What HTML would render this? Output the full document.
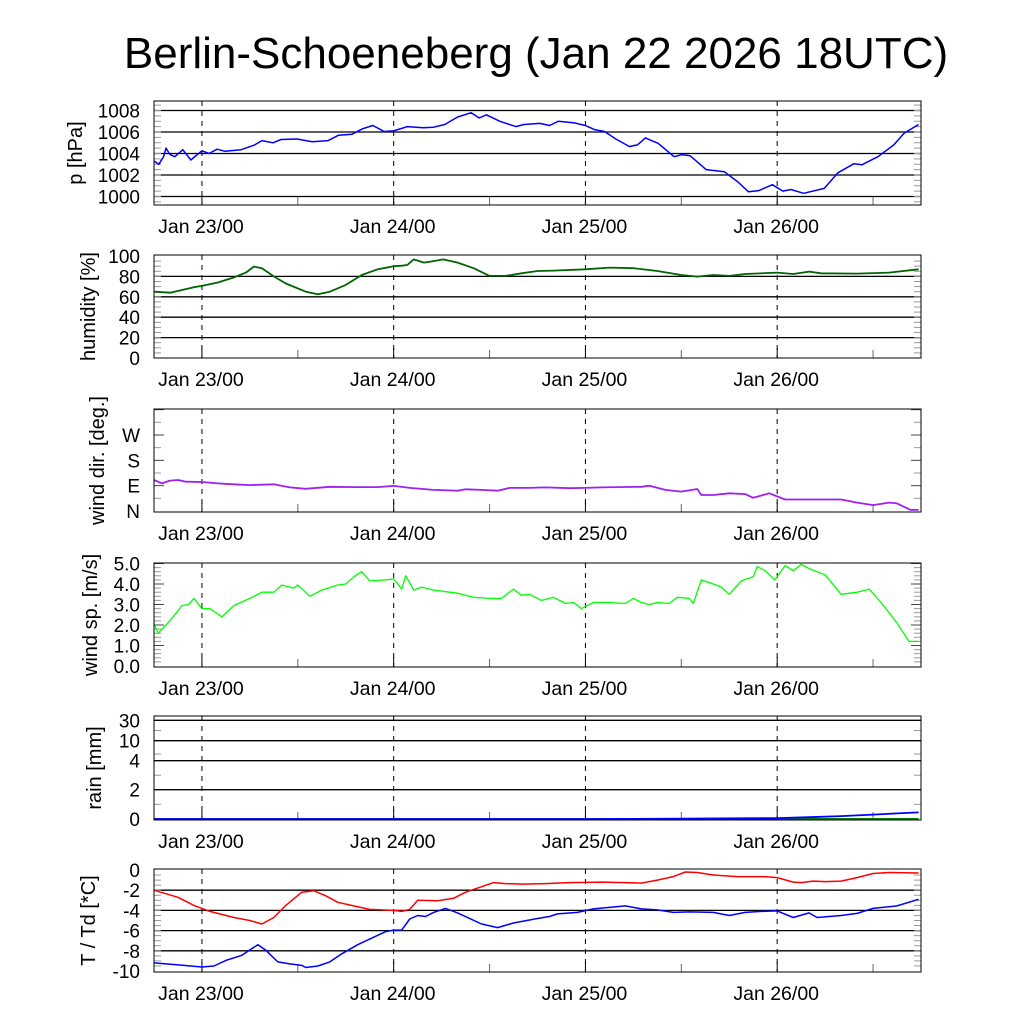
<!DOCTYPE html>
<html><head><meta charset="utf-8"><style>
body{margin:0;background:#fff}
svg{display:block;font-family:"Liberation Sans",sans-serif}
</style></head><body>
<svg id="chart" width="1024" height="1024" viewBox="0 0 1024 1024">
<text x="536" y="68" font-size="44" text-anchor="middle">Berlin-Schoeneberg (Jan 22 2026 18UTC)</text>
</svg>
<script>
// ---- data (hours since Jan 22 18UTC) ----
const dayLabels = ["Jan 23/00","Jan 24/00","Jan 25/00","Jan 26/00"];
const dayHours = [6,30,54,78];
const minorHours = [18,42,66,90];
const pH = [0,0.6,1.2,1.5,2,2.6,3.6,4.6,6,6.9,7.9,8.9,10.9,12.6,13.5,14.9,15.9,17.9,19.8,21.8,23.1,24.8,26.1,27.4,28.8,30,31.7,33.7,35,36.4,38,39.7,40.7,41.6,43.3,45.3,46.3,48.3,49.5,50.6,52.6,54,55.2,56.4,57.8,59.5,60.5,61.5,63.1,65.1,66.1,67.1,69.1,71.4,73.1,74.4,75.7,77.4,78.7,79.7,81.3,83.9,85.6,87.6,88.6,90.6,92.6,93.9,95.7];
const pV = [1003.3,1003.0,1003.7,1004.5,1003.9,1003.7,1004.35,1003.4,1004.25,1004.0,1004.4,1004.2,1004.35,1004.8,1005.2,1005.0,1005.3,1005.35,1005.1,1005.2,1005.7,1005.8,1006.3,1006.6,1006.05,1006.1,1006.5,1006.4,1006.45,1006.7,1007.4,1007.8,1007.3,1007.6,1007.0,1006.5,1006.7,1006.8,1006.6,1007.0,1006.85,1006.6,1006.2,1006.05,1005.35,1004.65,1004.8,1005.45,1004.95,1003.7,1003.9,1003.8,1002.5,1002.3,1001.35,1000.45,1000.55,1001.1,1000.5,1000.65,1000.3,1000.75,1002.2,1003.05,1002.95,1003.7,1004.8,1005.9,1006.7];
const hH = [0,2,5,6,8,10,11.5,12.5,13.5,15,16.5,19,20.5,22,24,26,28,30,31,31.7,32.5,33.8,35,36.2,38,40,42,44,46,48,50,54,57,60,63,66,68,70,72,74,78,80,82,83.5,88,92,95.7];
const hV = [65,64,69.4,70.7,74,79,83.7,89.6,88,80,73,65,62.5,65,71.7,81.4,87,90,90.5,91.2,96.7,93.5,95,96.7,93.5,88,80.5,80.5,83,85.3,85.7,87,88.6,88,85.3,81.4,79.8,81.4,80.5,82.4,83.7,82.4,84.7,83,82.7,83.7,87];
const dH = [0,1,2,3,4,6,8,10,12,15,17,19,22,25,28,30,32,35,38,39,41,43,44.5,47,49,52,54,56,58,61,62,64,66,68,68.5,70,72,74,75,77,79,80,83,86,88,90,92,93,94.7,95.7];
const dV = [110,98,108,110,104,103,98,95,92,95,84,79,86,85,85,89,82,75,72,77,75,72,82,82,84,81,82,84,85,86,90,75,69,78,57,57,63,60,47,63,41,41,41,41,30,21,30,27,4,4];
const sH = [0,0.5,1.5,2.5,3.5,4.3,5,6,7,8.5,10,12,13.5,15,16,17.5,18,19.5,21,23,24,25,26,27,29,30,31,31.5,32.5,33.5,35,37,38,40,42,43.5,45,46,47,48.5,50,51.5,52.5,53.5,55,57,59,60,61,62,63,64.5,65.5,67,67.5,68.5,70,71,72,73.5,75,75.5,76.5,77.7,79,80,81,82,84,86,88,89.5,91,93,94.5,95.7];
const sV = [2.1,1.6,2.0,2.45,2.95,3.0,3.3,2.8,2.8,2.4,2.95,3.3,3.6,3.6,3.95,3.8,3.95,3.4,3.7,3.95,4.0,4.35,4.6,4.15,4.2,4.25,3.75,4.4,3.7,3.85,3.7,3.6,3.55,3.35,3.3,3.3,3.75,3.45,3.5,3.2,3.35,3.05,3.1,2.8,3.1,3.1,3.05,3.3,3.1,3.0,3.1,3.05,3.35,3.3,3.05,4.2,4.0,3.85,3.5,4.15,4.35,4.85,4.65,4.2,4.9,4.65,4.95,4.75,4.45,3.5,3.6,3.75,3.1,2.1,1.2,1.2];
const rH = [0,54,66,78,82,86,90,93,95.7];
const rV = [0,0,0.02,0.06,0.12,0.2,0.3,0.38,0.45];
const rateH = [78,95.7];
const rateV = [0,0];
const tH = [0,3,5,7,10,12,13.5,15,16.5,18.5,20,21.5,23,25,27,30,31,32,33,35.5,37.5,39,41,42.5,44,46,49,52,56,59,61,63,65,66.5,68,70,73,76.5,78,80,81,82.5,84,86,88,90,92,95.7];
const tV = [-2.0,-2.7,-3.5,-4.1,-4.7,-5.0,-5.35,-4.7,-3.5,-2.2,-2.05,-2.55,-3.2,-3.55,-3.9,-4.0,-4.1,-3.9,-3.0,-3.05,-2.8,-2.2,-1.65,-1.25,-1.35,-1.4,-1.35,-1.25,-1.2,-1.25,-1.3,-1.0,-0.65,-0.2,-0.25,-0.5,-0.65,-0.65,-0.75,-1.2,-1.25,-1.1,-1.15,-1.1,-0.75,-0.35,-0.25,-0.3];
const tdH = [0,3,6,7.5,9,11,12.5,13,14,15.5,17,18.5,19,20.5,22,23.5,25.5,27.5,29,30,31,32,33,34,35,36.5,38,41,43,45,48,49.5,50.5,53,55,57,59,61,63,65,67,70,72,74,76,78,80,82,83,86,88,90,93,95.7];
const tdV = [-9.2,-9.4,-9.6,-9.5,-8.95,-8.45,-7.65,-7.4,-7.95,-9.1,-9.3,-9.45,-9.65,-9.5,-9.1,-8.3,-7.4,-6.65,-6.1,-5.95,-5.95,-4.85,-4.5,-4.6,-4.2,-3.8,-4.25,-5.35,-5.7,-5.25,-4.8,-4.6,-4.35,-4.2,-3.85,-3.7,-3.55,-3.85,-3.95,-4.2,-4.15,-4.2,-4.5,-4.2,-4.1,-4.05,-4.7,-4.25,-4.7,-4.5,-4.3,-3.8,-3.55,-2.9];

const NS="http://www.w3.org/2000/svg";
const svg=document.getElementById('chart');
const X0=154,X1=921,HOURS=96;
const xs=h=>X0+(X1-X0)*h/HOURS;
function el(tag,attrs,parent){const e=document.createElementNS(NS,tag);for(const k in attrs)e.setAttribute(k,attrs[k]);(parent||svg).appendChild(e);return e;}
function lin(v0,y0,v1,y1){return v=>y0+(v-v0)*(y1-y0)/(v1-v0);}
function pw(vals,ys){return v=>{for(let i=0;i<vals.length-1;i++){if(v<=vals[i+1]){return ys[i]+(v-vals[i])*(ys[i+1]-ys[i])/(vals[i+1]-vals[i]);}}return ys[ys.length-1];};}

function panel(o){
  const g=el('g',{});
  
  
  (o.grid||[]).forEach(v=>{const l=el('line',{x1:X0,x2:X1,y1:o.ys(v),y2:o.ys(v),stroke:'#000','stroke-width':1.3},g);
    });
  (o.minor||[]).forEach(v=>{const y=o.ys(v);
    el('line',{x1:X0,x2:X0+7,y1:y,y2:y,stroke:'#999','stroke-width':1},g);
    el('line',{x1:X1-7,x2:X1,y1:y,y2:y,stroke:'#999','stroke-width':1},g);});
  (o.major||[]).forEach(v=>{const y=o.ys(v);
    el('line',{x1:X0,x2:X0+10,y1:y,y2:y,stroke:'#444','stroke-width':1},g);
    el('line',{x1:X1-10,x2:X1,y1:y,y2:y,stroke:'#444','stroke-width':1},g);});
  dayHours.forEach(h=>{const l=el('line',{x1:xs(h),x2:xs(h),y1:o.top,y2:o.bot,stroke:'#000','stroke-width':1,'stroke-dasharray':'5,5'},g);
    
    el('line',{x1:xs(h),x2:xs(h),y1:o.bot-10,y2:o.bot,stroke:'#000','stroke-width':1},g);});
  minorHours.forEach(h=>{el('line',{x1:xs(h),x2:xs(h),y1:o.bot-8,y2:o.bot,stroke:'#666','stroke-width':1},g);});
  o.series.forEach(s=>{
    let d='';for(let i=0;i<s.h.length;i++){d+=(i?'L':'M')+xs(s.h[i]).toFixed(1)+','+o.ys(s.v[i]).toFixed(1);}
    const p=el('path',{d:d,fill:'none',stroke:s.c,'stroke-width':s.w||1.5,'stroke-linejoin':'round'},g);
    
  });
  const f=el('rect',{x:X0,y:o.top,width:X1-X0,height:o.bot-o.top,fill:'none',stroke:'#000','stroke-width':1},g);
  
  o.labels.forEach((t,i)=>{const tx=el('text',{x:140,y:o.ys(o.labelVals[i])+7,'font-size':19,'text-anchor':'end'},g);tx.textContent=t;
    });
  dayLabels.forEach((t,i)=>{const tx=el('text',{x:xs(dayHours[i])-1,y:o.bot+28,'font-size':19.5,'text-anchor':'middle'},g);tx.textContent=t;
    });
  const cy=(o.top+o.bot)/2;
  const at=el('text',{x:0,y:0,'font-size':20,'text-anchor':'middle',transform:`translate(${o.tx},${cy}) rotate(-90)`},g);
  at.textContent=o.title;
}
function rng(a,b,s){const r=[];for(let v=a;v<=b+1e-9;v+=s)r.push(+v.toFixed(3));return r;}

panel({name:'pressure',top:101,bot:205,ys:lin(1000,196.5,1008,110.5),grid:[1000,1002,1004,1006,1008],
  minor:rng(999.5,1008.5,0.5),major:[],labels:['1000','1002','1004','1006','1008'],labelVals:[1000,1002,1004,1006,1008],
  title:'p [hPa]',tx:82,series:[{h:pH,v:pV,c:'#0000ff',n:'pressure-line'}]});
panel({name:'humidity',top:255,bot:358,ys:lin(0,358,100,256),grid:[20,40,60,80],
  minor:rng(5,95,5),major:[],labels:['0','20','40','60','80','100'],labelVals:[0,20,40,60,80,100],
  title:'humidity [%]',tx:95,series:[{h:hH,v:hV,c:'#006400',n:'humidity-line',w:1.8}]});
panel({name:'wind-direction',top:409,bot:512,ys:lin(0,511,270,435),grid:[],
  minor:[45,135,225,315],major:[90,180,270,360],labels:['N','E','S','W'],labelVals:[0,90,180,270],
  title:'wind dir. [deg.]',tx:104,series:[{h:dH,v:dV,c:'#a020f0',n:'wind-direction-line',w:1.8}]});
panel({name:'wind-speed',top:563,bot:667,ys:lin(0,666,5,563.5),grid:[],
  minor:rng(0.2,4.8,0.2),major:[1,2,3,4,5],labels:['0.0','1.0','2.0','3.0','4.0','5.0'],labelVals:[0,1,2,3,4,5],
  title:'wind sp. [m/s]',tx:97,series:[{h:sH,v:sV,c:'#00ff00',n:'wind-speed-line',w:1.3}]});
const rainY=pw([0,2,4,10,30],[819,789.7,760.7,740.7,720.3]);
panel({name:'rain',top:716,bot:820,ys:rainY,grid:[2,4,10,30],
  minor:[1,3,6,20],major:[],labels:['0','2','4','10','30'],labelVals:[0,2,4,10,30],
  title:'rain [mm]',tx:101,series:[{h:[0,95.7],v:[0,0],c:'#000080',n:'rain-baseline',w:1.5},{h:rateH,v:rateV,c:'#008000',n:'rain-rate-line',w:2},{h:rH,v:rV,c:'#0000ff',n:'rain-cumulative-line',w:1.8}]});
panel({name:'temperature',top:869,bot:972,ys:lin(0,870,-10,971),grid:[-2,-4,-6,-8],
  minor:rng(-9.5,-0.5,0.5),major:[],labels:['-10','-8','-6','-4','-2','0'],labelVals:[-10,-8,-6,-4,-2,0],
  title:'T / Td [*C]',tx:95,series:[{h:tH,v:tV,c:'#ff0000',n:'temperature-line'},{h:tdH,v:tdV,c:'#0000ff',n:'dewpoint-line'}]});
</script>
</body></html>
